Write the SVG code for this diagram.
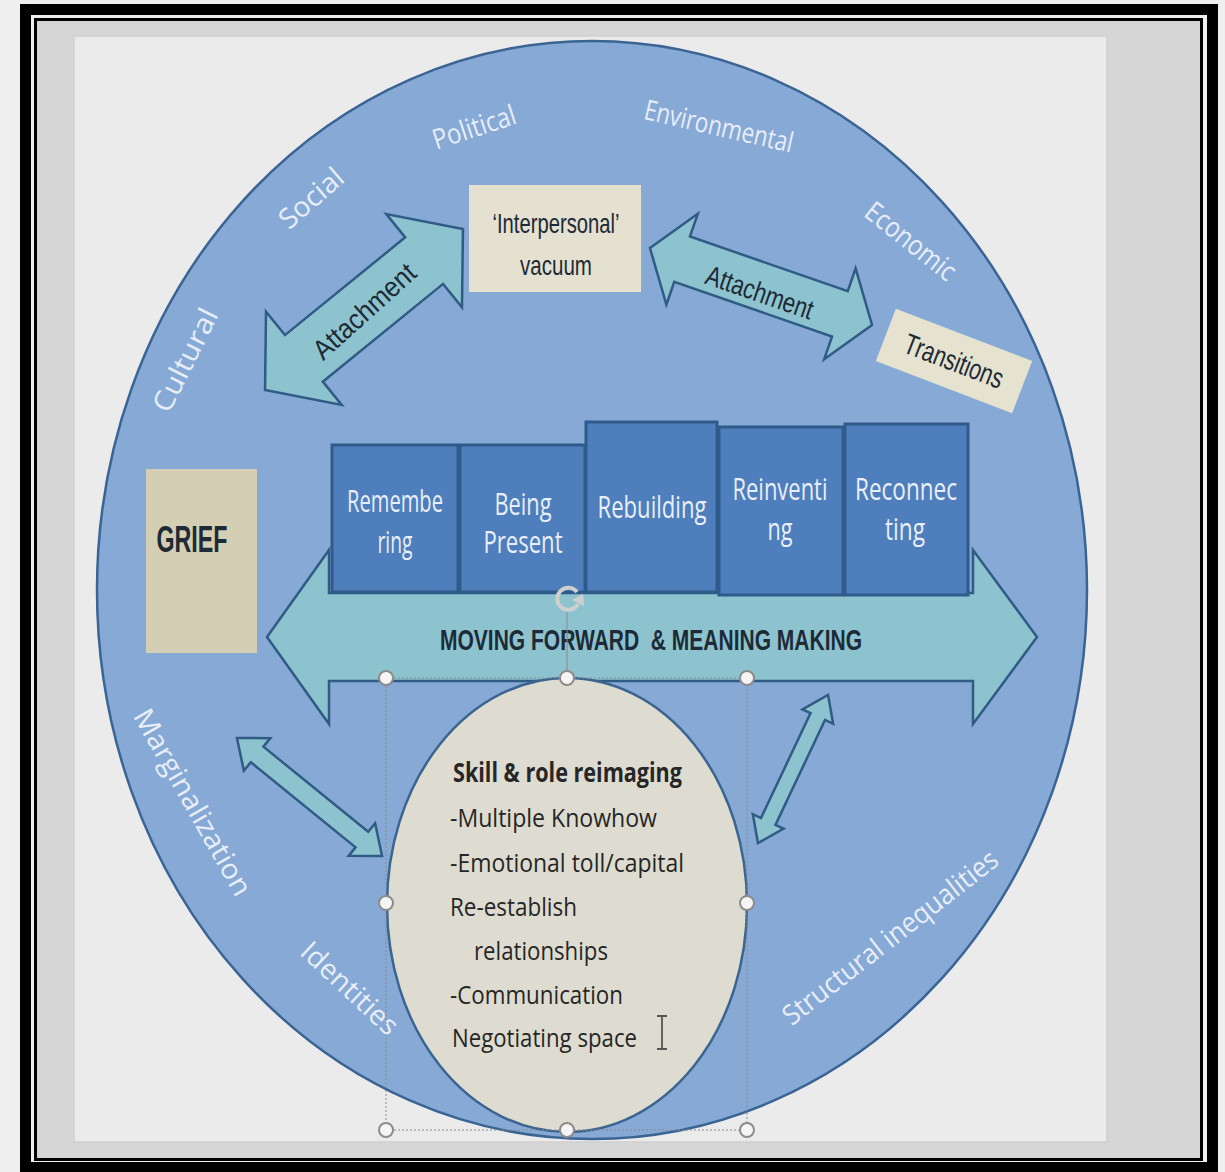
<svg xmlns="http://www.w3.org/2000/svg" width="1225" height="1172" viewBox="0 0 1225 1172">
<style>
.lbl{font-family:"Open Sans","Noto Sans",sans-serif;font-size:28px;fill:#e8eef8;text-anchor:middle}
.step{font-family:"Open Sans","Noto Sans",sans-serif;font-size:31px;fill:#e9eff8;text-anchor:middle}
.nar{font-family:"Liberation Sans",Arial,sans-serif;fill:#1e2a35;text-anchor:middle}
.body{font-family:"Open Sans","Noto Sans",sans-serif;font-size:26px;fill:#262626}
.rect{fill:#4f7ebd;stroke:#2f5a8a;stroke-width:3}
.dbl{fill:#8cc3cf;stroke:#2f5b85;stroke-width:2.5;stroke-linejoin:miter}
.handle{fill:#f5f5f5;stroke:#8c8c8c;stroke-width:2}
.sel{fill:none;stroke:#8a8a8a;stroke-width:1;stroke-dasharray:2 2}
</style>
<rect x="0" y="0" width="1225" height="1172" fill="#efefef"/>
<g id="frame">
<rect x="25.5" y="9.5" width="1187" height="1158" fill="none" stroke="#000" stroke-width="11"/>
<rect x="35.5" y="19.5" width="1166" height="1140" fill="#d6d6d6" stroke="#000" stroke-width="3"/>
<rect x="74" y="36" width="1033" height="1106" fill="#ebebeb" stroke="#cfcfcf" stroke-width="1.5"/>
</g>
<g id="context-circle">
<ellipse cx="592" cy="590" rx="495" ry="549" fill="#87a9d5" stroke="#3a6494" stroke-width="2.5"/>
</g>
<g id="moving-forward">
<polygon points="267,637 329,550 329,593 973,593 973,550 1037,637 973,724 973,681 329,681 329,724" class="dbl"/>
<text x="651" y="650" class="nar" font-size="30" font-weight="bold" textLength="422" lengthAdjust="spacingAndGlyphs" style="white-space:pre">MOVING FORWARD  &amp; MEANING MAKING</text>
</g>
<g id="step-remembering">
<rect x="332" y="445" width="126" height="147" class="rect"/>
<text x="395" y="512" class="step" textLength="96" lengthAdjust="spacingAndGlyphs">Remembe</text>
<text x="395" y="553" class="step" textLength="35" lengthAdjust="spacingAndGlyphs">ring</text>
</g>
<g id="step-being-present">
<rect x="460" y="445" width="125" height="147" class="rect"/>
<text x="523" y="515" class="step" textLength="57" lengthAdjust="spacingAndGlyphs">Being</text>
<text x="523" y="553" class="step" textLength="79" lengthAdjust="spacingAndGlyphs">Present</text>
</g>
<g id="step-rebuilding">
<rect x="586" y="422" width="131" height="170" class="rect"/>
<text x="652" y="518" class="step" textLength="109" lengthAdjust="spacingAndGlyphs">Rebuilding</text>
</g>
<g id="step-reinventing">
<rect x="719" y="427" width="124" height="168" class="rect"/>
<text x="780" y="500" class="step" textLength="95" lengthAdjust="spacingAndGlyphs">Reinventi</text>
<text x="780" y="540" class="step" textLength="25" lengthAdjust="spacingAndGlyphs">ng</text>
</g>
<g id="step-reconnecting">
<rect x="845" y="424" width="123" height="171" class="rect"/>
<text x="906" y="500" class="step" textLength="102" lengthAdjust="spacingAndGlyphs">Reconnec</text>
<text x="905" y="540" class="step" textLength="40" lengthAdjust="spacingAndGlyphs">ting</text>
</g>
<g id="grief">
<rect x="146" y="469" width="111" height="184" fill="#d4cfb4"/>
<text x="192" y="552" class="nar" font-size="37" font-weight="bold" fill="#1a1a1a" textLength="71" lengthAdjust="spacingAndGlyphs">GRIEF</text>
</g>
<g id="interpersonal-vacuum">
<rect x="469" y="185" width="172" height="107" fill="#e4e1d1"/>
<text x="556" y="233" class="nar" font-size="28" textLength="127" lengthAdjust="spacingAndGlyphs">‘Interpersonal’</text>
<text x="556" y="275" class="nar" font-size="28" textLength="72" lengthAdjust="spacingAndGlyphs">vacuum</text>
</g>
<g id="transitions" transform="translate(954,361) rotate(21)">
<rect x="-73" y="-28" width="146" height="56" fill="#e5e2d0"/>
<text x="0" y="10" class="nar" font-size="29" textLength="104" lengthAdjust="spacingAndGlyphs">Transitions</text>
</g>
<g id="skill-role-reimaging">
<ellipse cx="567" cy="905" rx="180" ry="227" fill="#dedcd0" stroke="#3b6590" stroke-width="2.5"/>
<text x="453" y="782" class="body" font-weight="bold" textLength="229" lengthAdjust="spacingAndGlyphs">Skill &amp; role reimaging</text>
<text x="450" y="827" class="body" textLength="207" lengthAdjust="spacingAndGlyphs">-Multiple Knowhow</text>
<text x="450" y="872" class="body" textLength="234" lengthAdjust="spacingAndGlyphs">-Emotional toll/capital</text>
<text x="450" y="916" class="body" textLength="127" lengthAdjust="spacingAndGlyphs">Re-establish</text>
<text x="474" y="960" class="body" textLength="134" lengthAdjust="spacingAndGlyphs">relationships</text>
<text x="450" y="1004" class="body" textLength="173" lengthAdjust="spacingAndGlyphs">-Communication</text>
<text x="452" y="1047" class="body" textLength="185" lengthAdjust="spacingAndGlyphs">Negotiating space</text>
</g>
<g id="connectors">
<g transform="translate(364,309.5) rotate(-39.1)">
<polygon points="-127.5,0 -77.5,-60 -77.5,-30 77.5,-30 77.5,-60 127.5,0 77.5,60 77.5,30 -77.5,30 -77.5,60" class="dbl"/>
</g>
<g transform="translate(761,286.5) rotate(19.1)">
<polygon points="-117.5,0 -83.5,-48 -83.5,-24 83.5,-24 83.5,-48 117.5,0 83.5,48 83.5,24 -83.5,24 -83.5,48" class="dbl"/>
</g>
<g transform="translate(309.5,797) rotate(39.1)">
<polygon points="-93.5,0 -67.5,-21 -67.5,-10 67.5,-10 67.5,-21 93.5,0 67.5,21 67.5,10 -67.5,10 -67.5,21" class="dbl" stroke-width="2"/>
</g>
<g transform="translate(793,769) rotate(-64.7)">
<polygon points="-82,0 -58,-17 -58,-8 58,-8 58,-17 82,0 58,17 58,8 -58,8 -58,17" class="dbl" stroke-width="2"/>
</g>
</g>
<g id="attachment-labels">
<text class="nar" font-size="28" transform="translate(364,311) rotate(-42)" dy="10" textLength="128" lengthAdjust="spacingAndGlyphs">Attachment</text>
<text class="nar" font-size="28" transform="translate(760,292) rotate(19)" dy="10" textLength="112" lengthAdjust="spacingAndGlyphs">Attachment</text>
</g>
<g id="context-labels">
<text class="lbl" transform="translate(185,360) rotate(-63.4)" dy="10" textLength="112" lengthAdjust="spacingAndGlyphs">Cultural</text>
<text class="lbl" transform="translate(311,198) rotate(-41)" dy="10" textLength="76" lengthAdjust="spacingAndGlyphs">Social</text>
<text class="lbl" transform="translate(474,127) rotate(-18)" dy="10" textLength="86" lengthAdjust="spacingAndGlyphs">Political</text>
<text class="lbl" transform="translate(719,126) rotate(12.9)" dy="10" textLength="152" lengthAdjust="spacingAndGlyphs">Environmental</text>
<text class="lbl" transform="translate(911,241) rotate(38.4)" dy="10" textLength="108" lengthAdjust="spacingAndGlyphs">Economic</text>
<text class="lbl" transform="translate(193,802) rotate(60.4)" dy="10" textLength="210" lengthAdjust="spacingAndGlyphs">Marginalization</text>
<text class="lbl" transform="translate(350,988) rotate(43)" dy="10" textLength="122" lengthAdjust="spacingAndGlyphs">Identities</text>
<text class="lbl" transform="translate(890,937) rotate(-38)" dy="10" textLength="265" lengthAdjust="spacingAndGlyphs">Structural inequalities</text>
</g>
<g id="selection">
<rect x="386" y="678" width="361" height="452" class="sel"/>
<line x1="567" y1="612" x2="567" y2="671" stroke="#8a8a8a" stroke-width="1"/>
<path d="M577,592 A11,11 0 1 0 578,604" fill="none" stroke="#cfcfcf" stroke-width="4"/>
<path d="M572,600 L584,606 L583,594 Z" fill="#cfcfcf"/>
<circle cx="386" cy="678" r="7" class="handle"/>
<circle cx="567" cy="678" r="7" class="handle"/>
<circle cx="747" cy="678" r="7" class="handle"/>
<circle cx="386" cy="903" r="7" class="handle"/>
<circle cx="747" cy="903" r="7" class="handle"/>
<circle cx="386" cy="1130" r="7" class="handle"/>
<circle cx="567" cy="1130" r="7" class="handle"/>
<circle cx="747" cy="1130" r="7" class="handle"/>
<path d="M657,1016 H667 M662,1016 V1049 M657,1049 H667" fill="none" stroke="#555" stroke-width="1.8"/>
</g>
</svg>
